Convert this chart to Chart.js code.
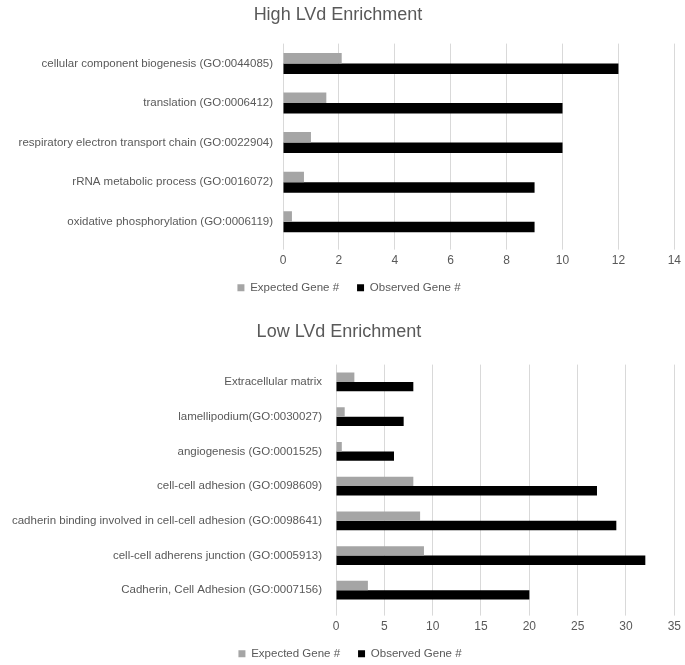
<!DOCTYPE html>
<html>
<head>
<meta charset="utf-8">
<script src="https://cdn.jsdelivr.net/npm/chart.js@4/dist/chart.umd.min.js"></script>
<style>
  body { margin: 0; background: #fff; width: 685px; height: 665px; position: relative; overflow: hidden; }
  .box { position: absolute; left: 0; width: 685px; }
</style>
</head>
<body>
<div class="box" style="top: 0px; height: 299px;"><canvas id="highChart"></canvas></div>
<div class="box" style="top: 310px; height: 355px;"><canvas id="lowChart"></canvas></div>
<script>
const highLabels = [
    'cellular component biogenesis (GO:0044085)',
    'translation (GO:0006412)',
    'respiratory electron transport chain (GO:0022904)',
    'rRNA metabolic process (GO:0016072)',
    'oxidative phosphorylation (GO:0006119)'
];
const highExpected = [2.1, 1.55, 1.0, 0.75, 0.32];
const highObserved = [12, 10, 10, 9, 9];

const lowLabels = [
    'Extracellular matrix',
    'lamellipodium(GO:0030027)',
    'angiogenesis (GO:0001525)',
    'cell-cell adhesion (GO:0098609)',
    'cadherin binding involved in cell-cell adhesion (GO:0098641)',
    'cell-cell adherens junction (GO:0005913)',
    'Cadherin, Cell Adhesion (GO:0007156)'
];
const lowExpected = [1.9, 0.9, 0.6, 8.0, 8.7, 9.1, 3.3];
const lowObserved = [8, 7, 6, 27, 29, 32, 20];

const colors = {
    expected: '#A5A5A5',
    observed: '#000000',
    text: '#595959',
    grid: '#D9D9D9'
};

Chart.defaults.font.family = '"Liberation Sans", Arial, sans-serif';
Chart.defaults.color = colors.text;

// the legend sits a little right of centre in the original
const legendShift = {
    id: 'legendShift',
    afterLayout(chart) {
        chart.legend.left += 11;
        chart.legend.right += 11;
    }
};

function makeChart(id, title, labels, expected, observed, opts) {
    const ctx = document.getElementById(id).getContext('2d');
    return new Chart(ctx, {
        type: 'bar',
        data: {
            labels: labels,
            datasets: [
                { label: 'Expected Gene #', data: expected, backgroundColor: colors.expected },
                { label: 'Observed Gene #', data: observed, backgroundColor: colors.observed }
            ]
        },
        options: {
            indexAxis: 'y',
            responsive: true,
            maintainAspectRatio: false,
            animation: false,
            categoryPercentage: opts.catPct,
            barPercentage: 1.0,
            layout: { padding: { left: 0, right: opts.padRight, top: opts.padTop, bottom: 0 } },
            plugins: {
                title: {
                    display: true,
                    text: title,
                    color: colors.text,
                    font: { size: 18, weight: 'normal' },
                    padding: { top: 0, bottom: opts.titleGap }
                },
                legend: {
                    position: 'bottom',
                    maxHeight: 35,
                    labels: { boxWidth: 7, boxHeight: 7, font: { size: 11.5 }, padding: 18 }
                },
                tooltip: { enabled: false }
            },
            scales: {
                x: {
                    min: 0,
                    max: opts.max,
                    ticks: { stepSize: opts.step, font: { size: 12 }, padding: 4 },
                    grid: { color: colors.grid, tickLength: 8 },
                    border: { display: false },
                    afterFit: function(scale) { scale.height += opts.xExtra; }
                },
                y: {
                    grid: { display: false, drawTicks: false },
                    border: { display: false },
                    ticks: { font: { size: 11.5 }, padding: opts.labelGap },
                    afterFit: function(scale) { scale.width = opts.axisWidth; }
                }
            }
        },
        plugins: [legendShift]
    });
}

makeChart('highChart', 'High LVd Enrichment', highLabels, highExpected, highObserved,
    { max: 14, step: 2, catPct: 0.53, padRight: 9, padTop: 4, titleGap: 18, axisWidth: 283,
      labelGap: 10, xExtra: -8 });
makeChart('lowChart', 'Low LVd Enrichment', lowLabels, lowExpected, lowObserved,
    { max: 35, step: 5, catPct: 0.54, padRight: 7, padTop: 11, titleGap: 22, axisWidth: 336,
      labelGap: 14, xExtra: -8 });
</script>
</body>
</html>
